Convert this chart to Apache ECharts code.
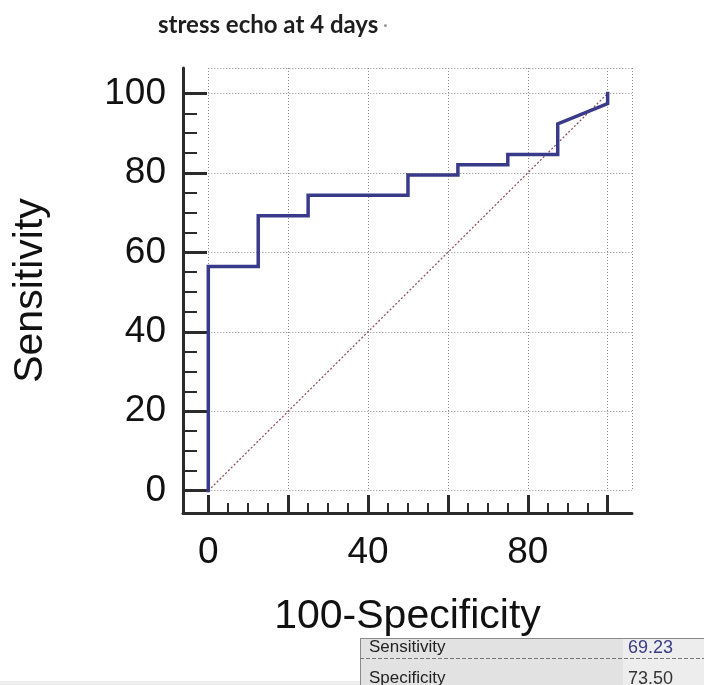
<!DOCTYPE html>
<html>
<head>
<meta charset="utf-8">
<title>stress echo at 4 days</title>
<script src="https://cdn.jsdelivr.net/npm/echarts@6/dist/echarts.min.js"></script>
<style>
  html, body { margin: 0; padding: 0; background: #fff; }
  #chart { width: 704px; height: 685px; }
</style>
</head>
<body>
<div id="chart"></div>
<script>
// ROC curve: 100-Specificity (x) vs Sensitivity (y), stepwise
const rocX = [0, 0, 12.5, 12.5, 25, 25, 50, 50, 62.5, 62.5, 75, 75, 87.5, 87.5, 100, 100];
const rocY = [0, 56.41, 56.41, 69.23, 69.23, 74.36, 74.36, 79.49, 79.49, 82.05, 82.05, 84.62, 84.62, 92.31, 97.44, 100];

// Chance diagonal
const diagX = [0, 100];
const diagY = [0, 100];

// Axis ticks and labels
const majorTicks = [0, 20, 40, 60, 80, 100];
const minorTicks = [5, 10, 15, 25, 30, 35, 45, 50, 55, 65, 70, 75, 85, 90, 95];
const xTickLabels = [0, 40, 80];
const yTickLabels = [0, 20, 40, 60, 80, 100];

// Criterion summary table
const statNames = ['Sensitivity', 'Specificity'];
const statValues = ['69.23', '73.50'];

const FONT = 'Liberation Sans, Arial, sans-serif';
const AXIS_COLOR = '#2b2b2b';

// Axis frame extends a little beyond 0..100 on both sides
const X_MIN = -6.33, X_MAX = 106.1;
const Y_MIN = -5.61, Y_MAX = 106.4;

const zip = (a, b) => a.map((v, i) => [v, b[i]]);

const chart = echarts.init(document.getElementById('chart'), null, { renderer: 'canvas' });

const frameGrid = { left: 183, top: 68, width: 449, height: 445, outerBoundsMode: 'none', containLabel: false };
const plotGrid = { left: 208.3, top: 68, width: 423.7, height: 422.7, outerBoundsMode: 'none', containLabel: false };

const option = {
  backgroundColor: '#ffffff',
  animation: false,
  title: {
    text: '{t|stress echo at 4 days} {d|·}',
    left: 153,
    top: 8,
    textStyle: {
      rich: {
        t: { fontFamily: 'Lato, sans-serif', fontWeight: 'bold', fontSize: 24, color: '#1e1e1e' },
        d: { fontFamily: 'Lato, sans-serif', fontSize: 16, color: '#9a9a9a' }
      }
    }
  },
  grid: [
    Object.assign({}, frameGrid),               // 0: axis frame, major ticks, labels
    Object.assign({}, plotGrid),                // 1: dotted grid and curves
    Object.assign({}, frameGrid)                // 2: minor ticks
  ],
  xAxis: [
    {
      gridIndex: 0, type: 'value', min: X_MIN, max: X_MAX, position: 'bottom',
      name: '100-Specificity', nameLocation: 'middle', nameGap: 83,
      nameTextStyle: { fontFamily: FONT, fontSize: 41, color: '#111' },
      axisLine: { show: true, onZero: false, lineStyle: { color: AXIS_COLOR, width: 3 } },
      axisTick: { show: true, inside: true, length: 18, customValues: majorTicks, lineStyle: { color: AXIS_COLOR, width: 3 } },
      axisLabel: { show: true, customValues: xTickLabels, margin: 21, fontFamily: FONT, fontSize: 37, color: '#111' },
      splitLine: { show: false }
    },
    {
      gridIndex: 1, type: 'value', min: 0, max: X_MAX, interval: 20,
      axisLine: { show: false, onZero: false }, axisTick: { show: false }, axisLabel: { show: false },
      splitLine: { show: true, lineStyle: { color: '#8c8c8c', width: 1, type: [1, 2] } }
    },
    {
      gridIndex: 2, type: 'value', min: X_MIN, max: X_MAX, position: 'bottom',
      axisLine: { show: false, onZero: false },
      axisTick: { show: true, inside: true, length: 10, customValues: minorTicks, lineStyle: { color: AXIS_COLOR, width: 2 } },
      axisLabel: { show: false },
      splitLine: { show: false }
    }
  ],
  yAxis: [
    {
      gridIndex: 0, type: 'value', min: Y_MIN, max: Y_MAX, position: 'left',
      name: 'Sensitivity', nameLocation: 'middle', nameGap: 132, nameRotate: 90,
      nameTextStyle: { fontFamily: FONT, fontSize: 41, color: '#111' },
      axisLine: { show: true, onZero: false, lineStyle: { color: AXIS_COLOR, width: 3 } },
      axisTick: { show: true, inside: true, length: 24, customValues: majorTicks, lineStyle: { color: AXIS_COLOR, width: 3 } },
      axisLabel: { show: true, customValues: yTickLabels, margin: 17, fontFamily: FONT, fontSize: 37, color: '#111' },
      splitLine: { show: false }
    },
    {
      gridIndex: 1, type: 'value', min: 0, max: Y_MAX, interval: 20,
      axisLine: { show: false, onZero: false }, axisTick: { show: false }, axisLabel: { show: false },
      splitLine: { show: true, lineStyle: { color: '#8c8c8c', width: 1, type: [1, 2] } }
    },
    {
      gridIndex: 2, type: 'value', min: Y_MIN, max: Y_MAX, position: 'left',
      axisLine: { show: false, onZero: false },
      axisTick: { show: true, inside: true, length: 14, customValues: minorTicks, lineStyle: { color: AXIS_COLOR, width: 2 } },
      axisLabel: { show: false },
      splitLine: { show: false }
    }
  ],
  series: [
    {
      name: 'Reference', type: 'line', xAxisIndex: 1, yAxisIndex: 1,
      data: zip(diagX, diagY), symbol: 'none', silent: true,
      lineStyle: { color: '#94505f', width: 1.3, type: [2, 2] },
      z: 2
    },
    {
      name: 'ROC', type: 'line', xAxisIndex: 1, yAxisIndex: 1,
      data: zip(rocX, rocY), symbol: 'none', silent: true,
      lineStyle: { color: '#3a3a8a', width: 3.5, join: 'miter', cap: 'square' },
      z: 3
    }
  ],
  graphic: [
    // faint strip along the bottom edge
    { type: 'rect', left: 0, top: 681, shape: { width: 362, height: 4 }, style: { fill: '#eeeeee' }, silent: true },
    // summary table
    { type: 'rect', left: 360, top: 638, shape: { width: 263, height: 47 }, style: { fill: '#e2e2e2' }, silent: true },
    { type: 'rect', left: 623, top: 638, shape: { width: 81, height: 47 }, style: { fill: '#ededed' }, silent: true },
    { type: 'line', shape: { x1: 360, y1: 638.5, x2: 704, y2: 638.5 }, style: { stroke: '#8a8a8a', lineWidth: 1 }, silent: true },
    { type: 'line', shape: { x1: 360.5, y1: 638, x2: 360.5, y2: 685 }, style: { stroke: '#8a8a8a', lineWidth: 1 }, silent: true },
    { type: 'line', shape: { x1: 360, y1: 658.5, x2: 704, y2: 658.5 }, style: { stroke: '#777777', lineWidth: 1, lineDash: [4, 2] }, silent: true },
    { type: 'text', left: 369, top: 639, style: { text: statNames[0], font: '17px ' + FONT, fill: '#222' }, silent: true },
    { type: 'text', left: 369, top: 670, style: { text: statNames[1], font: '17px ' + FONT, fill: '#222' }, silent: true },
    { type: 'text', left: 628, top: 639, style: { text: statValues[0], font: '18px ' + FONT, fill: '#3a3a86' }, silent: true },
    { type: 'text', left: 628, top: 670, style: { text: statValues[1], font: '18px ' + FONT, fill: '#333' }, silent: true }
  ]
};

chart.setOption(option);
</script>
</body>
</html>
